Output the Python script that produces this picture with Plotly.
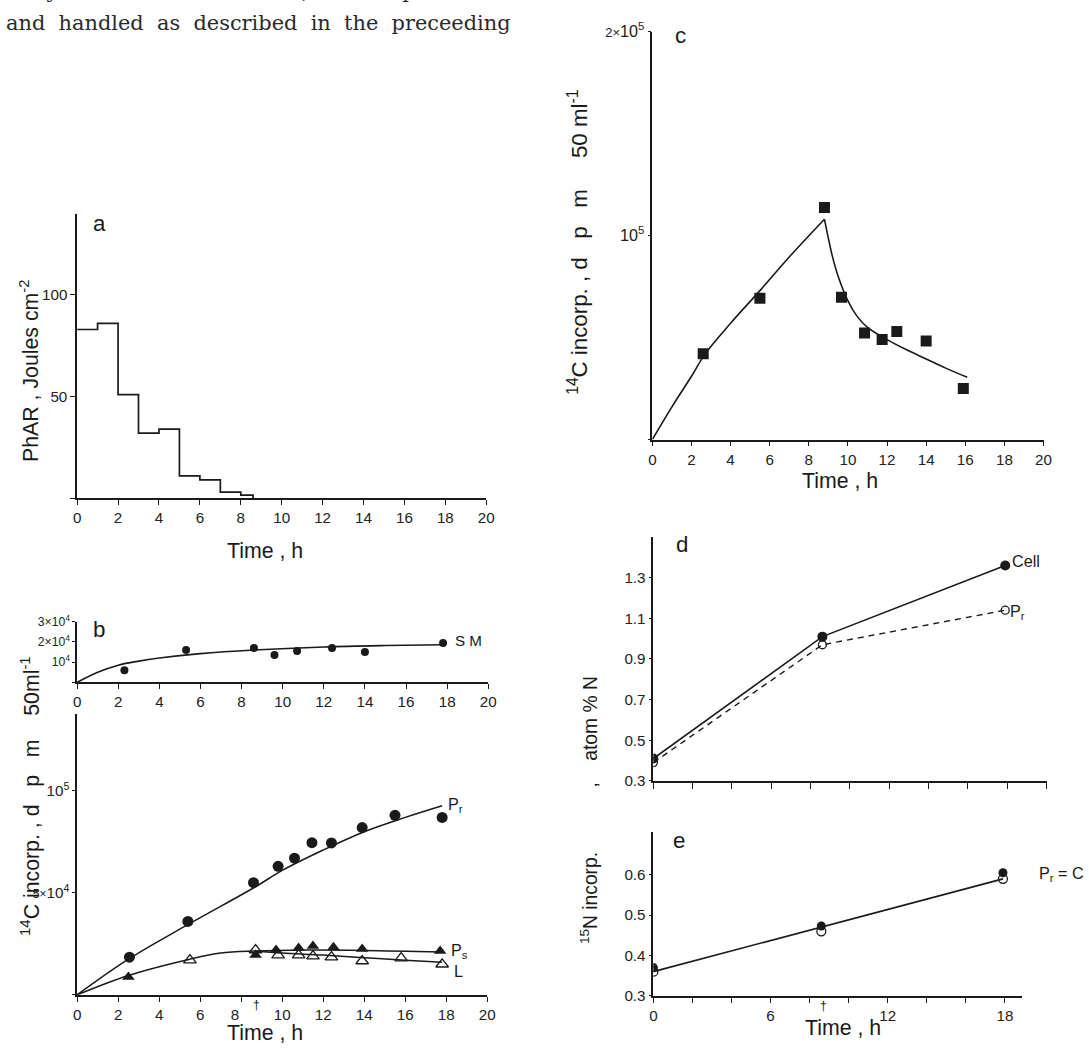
import plotly.graph_objects as go

W, H = 1089, 1048

# ---- panel a: photosynthetically active radiation per interval ----
phar_edges = [0, 1, 2, 3, 4, 5, 6, 7, 8, 8.6]
phar_vals = [83, 86, 51, 32, 34, 11, 9, 3, 1.5, 0]

# ---- panel b (upper): SM ----
sm_t = [2.3, 5.3, 8.6, 9.6, 10.7, 12.4, 14.0, 17.8]
sm_v = [6000, 16000, 17000, 13500, 15500, 17000, 15000, 19500]
sm_fit_t = [0, 1, 2, 3, 4, 6, 8.6, 12, 15, 17.8]
sm_fit_v = [0, 5000, 8500, 10500, 12000, 14200, 16000, 17500, 18200, 18600]

# ---- panel b (lower): Pr, Ps, L ----
pr_t = [2.55, 5.4, 8.6, 9.8, 10.6, 11.45, 12.4, 13.9, 15.5, 17.8]
pr_v = [18500, 36000, 55000, 63000, 67000, 74600, 74500, 82000, 88000, 87000]
pr_fit_t = [0, 2.5, 5.5, 8.7, 10, 12, 14, 16, 17.8]
pr_fit_v = [0, 17500, 35000, 53000, 61000, 71000, 80000, 87000, 92700]

ps_t = [2.5, 8.7, 9.7, 10.8, 11.5, 12.5, 13.9, 17.7]
ps_v = [8800, 19500, 22000, 23000, 24000, 23400, 22500, 21500]
ps_fit_t = [0, 2.5, 5.5, 7, 8.7, 11, 14, 17.8]
ps_fit_v = [0, 9500, 17500, 20500, 21500, 22000, 21800, 21000]

l_t = [5.5, 8.7, 9.8, 10.8, 11.5, 12.4, 13.9, 15.8, 17.8]
l_v = [17000, 22000, 19500, 19500, 19000, 18500, 16600, 18000, 15000]
l_fit_t = [8.7, 10, 12, 14, 16, 17.8]
l_fit_v = [21500, 20500, 19500, 18200, 17000, 16000]

# ---- panel c ----
c_t = [2.6, 5.5, 8.8, 9.67, 10.85, 11.75, 12.5, 14.0, 15.9]
c_v = [42000, 69300, 113700, 69800, 52200, 49000, 53000, 48300, 25000]
c_rise_t = [0, 1, 2, 2.7, 4, 5.5, 7, 8.8]
c_rise_v = [0, 16000, 31000, 42000, 57000, 73000, 89500, 108000]
c_fall_t = [8.8, 9.2, 9.5, 10, 10.5, 11, 12, 13, 14, 15, 16.1]
c_fall_v = [108000, 90000, 80000, 68000, 60000, 55000, 49000, 44000, 39500, 35000, 30500]

# ---- panel d: atom % 15N ----
d_t = [0, 8.6, 17.9]
cell_v = [0.41, 1.01, 1.36]
prd_v = [0.39, 0.97, 1.14]

# ---- panel e: 15N incorporation ----
e_t = [0, 8.6, 17.9]
e_cell_v = [0.37, 0.473, 0.605]
e_pr_v = [0.36, 0.46, 0.59]
e_fit_v = [0.36, 0.47, 0.59]

SANS = "Liberation Sans, Arial, sans-serif"
SERIF = "DejaVu Serif, Liberation Serif, serif"
INK = "#1a1a1a"
SP = "\u00a0"

# page-pixel to layout-pixel conversion (the page is shown slightly scaled and offset)
SX, OX = 0.9886, 3.9
SY, OY = 0.9866, 8.4


def X(px):
    return (px - OX) / SX


def Y(py):
    return (py - OY) / SY


def fs(size):
    return round(size / SY, 1)


TICK_FONT = dict(family=SANS, size=fs(15), color="#222")


def dom_x(p0, p1):
    return [X(p0) / W, X(p1) / W]


def dom_y(top, bottom):
    return [1 - Y(bottom) / H, 1 - Y(top) / H]


def axis(domain, rng, **kw):
    base = dict(domain=domain, range=rng, showline=True, linecolor=INK, linewidth=1.5,
                ticks="outside", ticklen=5, tickwidth=1.2, tickcolor=INK,
                showgrid=False, zeroline=False, tickfont=TICK_FONT, fixedrange=True)
    base.update(kw)
    return base


fig = go.Figure()

# panel a
fig.add_trace(go.Scatter(x=phar_edges, y=phar_vals, mode="lines", line=dict(color=INK, width=1.7, shape="hv"),
                         xaxis="x", yaxis="y", showlegend=False))

# panel b upper
fig.add_trace(go.Scatter(x=sm_fit_t, y=sm_fit_v, mode="lines", line=dict(color=INK, width=1.6, shape="spline"),
                         xaxis="x2", yaxis="y2", showlegend=False))
fig.add_trace(go.Scatter(x=sm_t, y=sm_v, mode="markers", marker=dict(symbol="circle", size=8, color=INK),
                         xaxis="x2", yaxis="y2", showlegend=False))

# panel b lower
for ft, fv in [(pr_fit_t, pr_fit_v), (ps_fit_t, ps_fit_v), (l_fit_t, l_fit_v)]:
    fig.add_trace(go.Scatter(x=ft, y=fv, mode="lines", line=dict(color=INK, width=1.5, shape="spline"),
                             xaxis="x3", yaxis="y3", showlegend=False))
fig.add_trace(go.Scatter(x=pr_t, y=pr_v, mode="markers", marker=dict(symbol="circle", size=11, color=INK),
                         xaxis="x3", yaxis="y3", showlegend=False))
fig.add_trace(go.Scatter(x=l_t, y=l_v, mode="markers",
                         marker=dict(symbol="triangle-up-open", size=11, color=INK, line=dict(width=1.3)),
                         xaxis="x3", yaxis="y3", showlegend=False))
fig.add_trace(go.Scatter(x=ps_t, y=ps_v, mode="markers", marker=dict(symbol="triangle-up", size=11, color=INK),
                         xaxis="x3", yaxis="y3", showlegend=False))

# panel c
fig.add_trace(go.Scatter(x=c_rise_t, y=c_rise_v, mode="lines", line=dict(color=INK, width=1.6, shape="spline"),
                         xaxis="x4", yaxis="y4", showlegend=False))
fig.add_trace(go.Scatter(x=c_fall_t, y=c_fall_v, mode="lines", line=dict(color=INK, width=1.6, shape="spline"),
                         xaxis="x4", yaxis="y4", showlegend=False))
fig.add_trace(go.Scatter(x=c_t, y=c_v, mode="markers", marker=dict(symbol="square", size=11, color=INK),
                         xaxis="x4", yaxis="y4", showlegend=False))

# panel d
fig.add_trace(go.Scatter(x=d_t, y=prd_v, mode="lines+markers", line=dict(color=INK, width=1.4, dash="6px,5px"),
                         marker=dict(symbol="circle-open", size=8, color=INK, line=dict(width=1.3)),
                         xaxis="x5", yaxis="y5", showlegend=False))
fig.add_trace(go.Scatter(x=d_t, y=cell_v, mode="lines+markers", line=dict(color=INK, width=1.6),
                         marker=dict(symbol="circle", size=10, color=INK),
                         xaxis="x5", yaxis="y5", showlegend=False))

# panel e
fig.add_trace(go.Scatter(x=e_t, y=e_fit_v, mode="lines", line=dict(color=INK, width=1.6),
                         xaxis="x6", yaxis="y6", showlegend=False))
fig.add_trace(go.Scatter(x=e_t, y=e_pr_v, mode="markers",
                         marker=dict(symbol="circle-open", size=9, color=INK, line=dict(width=1.3)),
                         xaxis="x6", yaxis="y6", showlegend=False))
fig.add_trace(go.Scatter(x=e_t, y=e_cell_v, mode="markers", marker=dict(symbol="circle", size=9, color=INK),
                         xaxis="x6", yaxis="y6", showlegend=False))

hours = list(range(0, 21, 2))
hour_txt = [str(h) for h in hours]
small_tick = dict(family=SANS, size=fs(12), color="#222")
mid_tick = dict(family=SANS, size=fs(16), color="#222")

layout = dict(
    width=W, height=H, margin=dict(l=0, r=0, t=0, b=0), autosize=False,
    paper_bgcolor="white", plot_bgcolor="rgba(0,0,0,0)", showlegend=False,
    # a
    xaxis=axis(dom_x(77, 486), [0, 20], anchor="y", tickvals=hours, ticktext=hour_txt),
    yaxis=axis(dom_y(212, 498), [0, 140], anchor="x", tickvals=[0, 50, 100], ticktext=["", "50", "100"]),
    # b upper
    xaxis2=axis(dom_x(77, 488), [0, 20], anchor="y2", tickvals=hours, ticktext=hour_txt),
    yaxis2=axis(dom_y(622, 683), [0, 30000], anchor="x2", tickvals=[0, 10000, 20000, 30000],
                ticktext=["", "10<sup>4</sup>", "2×10<sup>4</sup>", "3×10<sup>4</sup>"],
                tickfont=small_tick, ticklen=3),
    # b lower
    xaxis3=axis(dom_x(77, 487), [0, 20], anchor="y3", tickvals=hours,
                ticktext=["0", "2", "4", "6", "8" + SP + SP + SP, "10", "12", "14", "16", "18", "20"]),
    yaxis3=axis(dom_y(715, 997), [0, 137600], anchor="x3", tickvals=[0, 50000, 100000],
                ticktext=["", "<span style='font-size:12px'>5×</span>10<sup>4</sup>", "10<sup>5</sup>"],
                tickfont=dict(family=SANS, size=fs(15), color="#222"), ticklen=3),
    # c
    xaxis4=axis(dom_x(652, 1043), [0, 20], anchor="y4", tickvals=hours, ticktext=hour_txt),
    yaxis4=axis(dom_y(29, 439), [0, 200000], anchor="x4", tickvals=[0, 100000, 200000],
                ticktext=["", "10<sup>5</sup>", "<span style='font-size:13px'>2×</span>10<sup>5</sup>"],
                tickfont=mid_tick, ticklen=3),
    # d
    xaxis5=axis(dom_x(653, 1046), [0, 20], anchor="y5", tickvals=hours, showticklabels=False, ticklen=6),
    yaxis5=axis(dom_y(537, 782), [0.3, 1.5], anchor="x5", tickvals=[0.3, 0.5, 0.7, 0.9, 1.1, 1.3],
                ticktext=["0.3", "0.5", "0.7", "0.9", "1.1", "1.3"], ticklen=3),
    # e
    xaxis6=axis(dom_x(653, 1022), [0, 18.9], anchor="y6", tickvals=list(range(0, 19, 2)),
                ticktext=["0", "", "", "6", "", "", "12", "", "", "18"], ticklen=5),
    yaxis6=axis(dom_y(833, 998), [0.3, 0.707], anchor="x6", tickvals=[0.3, 0.4, 0.5, 0.6],
                ticktext=["0.3", "0.4", "0.5", "0.6"], ticklen=3),
)
fig.update_layout(**layout)


def note(text, px, py, size=16, xanchor="center", yanchor="middle", angle=0, family=SANS, color=INK):
    fig.add_annotation(text=text, x=X(px) / W, y=1 - Y(py) / H, xref="paper", yref="paper",
                       xanchor=xanchor, yanchor=yanchor, showarrow=False, textangle=angle,
                       font=dict(family=family, size=fs(size), color=color))


def spaced(words):
    return (SP + " ").join(words)


# running text of the page
note(spaced("n cycles. At 3 h intervals, subsamples were".split()), 513, -12, size=20.6,
     xanchor="right", family=SERIF, color="#2a2a2a")
note(spaced("and handled as described in the preceeding".split()), 513, 20, size=20.6,
     xanchor="right", family=SERIF, color="#2a2a2a")

# panel letters
note("a", 91, 222, size=22, xanchor="left")
note("b", 91, 630, size=22, xanchor="left")
note("c", 673, 33, size=22, xanchor="left")
note("d", 674, 544, size=22, xanchor="left")
note("e", 671, 842, size=22, xanchor="left")

# axis titles
note("Time , h", 265, 551, size=21)
note("Time , h", 265, 1035, size=21)
note("Time , h", 840, 481, size=21)
note("Time , h", 843, 1030, size=21)
note("PhAR , Joules cm<sup>-2</sup>", 30, 370, size=21, angle=-90)
note("<sup>14</sup>C" + SP + "incorp." + SP + "," + SP + "d" + SP * 3 + "p" + SP * 3 + "m" + SP * 4 + "50ml<sup>-1</sup>",
     31, 797, size=21, angle=-90)
note("<sup>14</sup>C" + SP + "incorp." + SP + "," + SP + "d" + SP * 3 + "p" + SP * 3 + "m" + SP * 5 + "50" + SP + "ml<sup>-1</sup>",
     578, 241, size=22, angle=-90)
note("<sup>15</sup>N incorp." + SP * 12 + "," + SP * 4 + "atom % N", 588, 811, size=19, angle=-90)

# series labels
note("S M", 453, 641, size=15, xanchor="left")
note("P<sub>r</sub>", 446, 806, size=16, xanchor="left")
note("P<sub>s</sub>", 449, 953, size=16, xanchor="left")
note("L", 452, 973, size=16, xanchor="left")
note("Cell", 1010, 561, size=16, xanchor="left")
note("P<sub>r</sub>", 1008, 612, size=16, xanchor="left")
note("P<sub>r</sub>" + SP + "=" + SP + "C", 1037, 876, size=16, xanchor="left")

# sampling-time markers on the time axes
note("†", 256, 1007, size=12)
note("†", 823, 1008, size=12)

fig.write_html("out.html")
